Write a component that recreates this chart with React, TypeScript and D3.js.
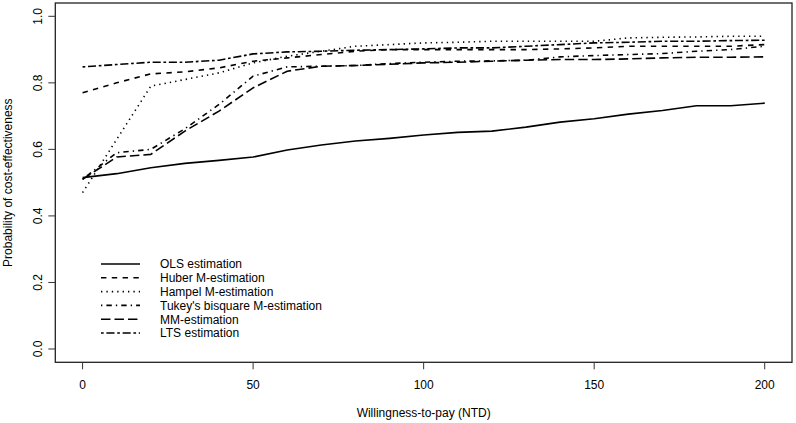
import React from "react";
import * as d3 from "d3";

const wtp = [0, 10, 20, 30, 40, 50, 60, 70, 80, 90, 100, 110, 120, 130, 140, 150, 160, 170, 180, 190, 200];

const olsValues = [0.515, 0.527, 0.545, 0.558, 0.567, 0.577, 0.598, 0.613, 0.625, 0.633, 0.643, 0.651, 0.655, 0.667, 0.682, 0.692, 0.706, 0.717, 0.731, 0.731, 0.739];
const huberValues = [0.77, 0.8, 0.827, 0.833, 0.845, 0.865, 0.875, 0.885, 0.895, 0.9, 0.9, 0.9, 0.9, 0.9, 0.902, 0.905, 0.91, 0.91, 0.91, 0.91, 0.915];
const hampelValues = [0.47, 0.63, 0.79, 0.81, 0.83, 0.86, 0.88, 0.895, 0.91, 0.915, 0.92, 0.922, 0.925, 0.925, 0.925, 0.925, 0.935, 0.937, 0.938, 0.94, 0.94];
const tukeyValues = [0.51, 0.59, 0.6, 0.662, 0.735, 0.82, 0.848, 0.85, 0.852, 0.858, 0.862, 0.865, 0.866, 0.868, 0.878, 0.882, 0.885, 0.888, 0.895, 0.9, 0.91];
const mmValues = [0.51, 0.577, 0.585, 0.655, 0.715, 0.785, 0.835, 0.85, 0.852, 0.856, 0.86, 0.862, 0.865, 0.868, 0.87, 0.87, 0.872, 0.875, 0.877, 0.877, 0.878];
const ltsValues = [0.848, 0.855, 0.862, 0.862, 0.868, 0.887, 0.893, 0.895, 0.898, 0.9, 0.902, 0.905, 0.905, 0.91, 0.915, 0.92, 0.922, 0.925, 0.925, 0.927, 0.928];

const seriesNames = [
  "OLS estimation",
  "Huber M-estimation",
  "Hampel M-estimation",
  "Tukey's bisquare M-estimation",
  "MM-estimation",
  "LTS estimation",
];
const seriesValues = [olsValues, huberValues, hampelValues, tukeyValues, mmValues, ltsValues];

const xTicks = [0, 50, 100, 150, 200];
const yTicks = [0, 0.2, 0.4, 0.6, 0.8, 1.0];

const LW = 1.35;
const dashPatterns = [
  "",
  [4, 4],
  [1, 3],
  [1, 3, 4, 3],
  [7, 3],
  [2, 2, 6, 2],
].map((p) => (Array.isArray(p) ? p.map((v) => v * LW).join(" ") : p));

const W = 796;
const H = 423;
const left = 55.3;
const right = 792;
const top = 3;
const bottom = 362.3;

const FONT = "'Liberation Sans', Arial, Helvetica, sans-serif";

export default function App() {
  const x = d3.scaleLinear().domain([-8, 208]).range([left, right]);
  const y = d3.scaleLinear().domain([-0.04, 1.04]).range([bottom, top]);
  const line = d3
    .line<number>()
    .x((_, i) => x(wtp[i]))
    .y((d) => y(d));

  const legendX1 = 101;
  const legendX2 = 140;
  const legendTextX = 160;
  const legendY0 = 264;
  const legendStep = 13.8;

  return (
    <svg
      width={W}
      height={H}
      style={{ position: "absolute", left: 0, top: 0, background: "#fff" }}
      fontFamily={FONT}
    >
      <rect x={0} y={0} width={W} height={H} fill="#fff" />
      {seriesValues.map((vals, i) => (
        <path
          key={i}
          d={line(vals) || ""}
          fill="none"
          stroke="#000"
          strokeWidth={1.6}
          strokeDasharray={dashPatterns[i] || undefined}
          strokeLinejoin="round"
        />
      ))}
      <rect
        x={left}
        y={top}
        width={right - left}
        height={bottom - top}
        fill="none"
        stroke="#222"
        strokeWidth={1.3}
      />
      {xTicks.map((t) => (
        <g key={"x" + t}>
          <line x1={x(t)} x2={x(t)} y1={bottom} y2={bottom + 7} stroke="#333" strokeWidth={1} />
          <text x={x(t)} y={389} fontSize={12} textAnchor="middle" fill="#000">
            {t}
          </text>
        </g>
      ))}
      {yTicks.map((t) => (
        <g key={"y" + t}>
          <line x1={left - 7} x2={left} y1={y(t)} y2={y(t)} stroke="#333" strokeWidth={1} />
          <text
            transform={`translate(42.3,${y(t)}) rotate(-90)`}
            fontSize={12}
            textAnchor="middle"
            fill="#000"
          >
            {t.toFixed(1)}
          </text>
        </g>
      ))}
      <text x={(left + right) / 2} y={417} fontSize={12} textAnchor="middle" fill="#000">
        Willingness-to-pay (NTD)
      </text>
      <text
        transform={`translate(12.3,${(top + bottom) / 2}) rotate(-90)`}
        fontSize={12}
        textAnchor="middle"
        fill="#000"
      >
        Probability of cost-effectiveness
      </text>
      {seriesNames.map((name, i) => {
        const ly = legendY0 + i * legendStep;
        return (
          <g key={name}>
            <line
              x1={legendX1}
              x2={legendX2}
              y1={ly}
              y2={ly}
              stroke="#000"
              strokeWidth={1.6}
              strokeDasharray={dashPatterns[i] || undefined}
            />
            <text x={legendTextX} y={ly + 4.3} fontSize={12} fill="#000">
              {name}
            </text>
          </g>
        );
      })}
    </svg>
  );
}
